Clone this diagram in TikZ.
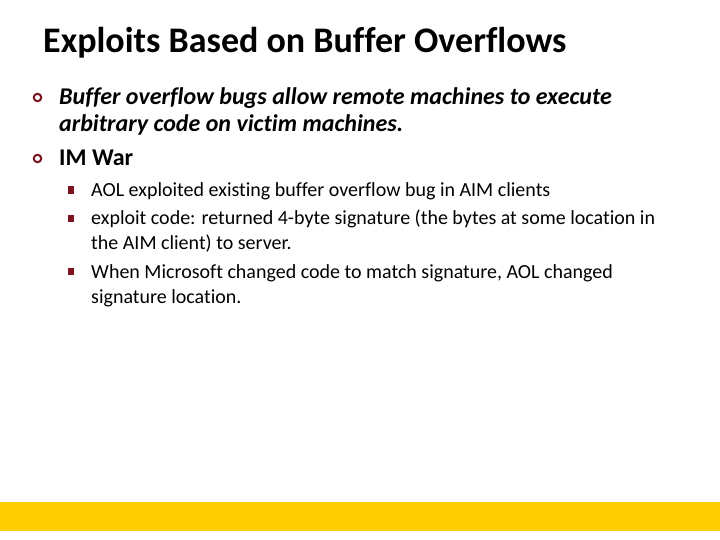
\documentclass[tikz,border=0pt]{standalone}
\usepackage{fontspec}
\setmainfont[Ligatures=NoCommon]{Carlito}
\definecolor{bulletred}{RGB}{125,20,30}
\definecolor{baryellow}{RGB}{255,204,0}
\begin{document}
\begin{tikzpicture}[x=1pt,y=-1pt,
  title/.style={anchor=base west,inner sep=0pt,font=\fontsize{36}{40}\selectfont\bfseries},
  lone/.style={anchor=base west,inner sep=0pt,font=\fontsize{24}{28}\selectfont\bfseries},
  lonei/.style={anchor=base west,inner sep=0pt,font=\fontsize{24}{28}\selectfont\bfseries\itshape},
  ltwo/.style={anchor=base west,inner sep=0pt,font=\fontsize{20}{24}\selectfont},
  ring/.style={circle,draw=bulletred,line width=2pt,minimum size=7.5pt,inner sep=0pt},
  sq/.style={fill=bulletred,minimum width=6pt,minimum height=7.5pt,inner sep=0pt}]
\useasboundingbox (0,0) rectangle (720,540);
\fill[white] (0,0) rectangle (720,540);
\fill[baryellow] (0,502) rectangle (720,531);
\node[title] (t) at (43,53) {Exploits Based on Buffer Overflows};
\node[ring] (b1) at (37.5,97.5) {};
\node[lonei] (l1a) at (59,105) {Buffer overflow bugs allow remote machines to execute};
\node[lonei] (l1b) at (59,132) {arbitrary code on victim machines.};
\node[ring] (b2) at (37.5,158.5) {};
\node[lone] (l2) at (59,166) {IM War};
\node[sq] (s1) at (71,190) {};
\node[ltwo] (a1) at (91,196.5) {AOL exploited existing buffer overflow bug in AIM clients};
\node[sq] (s2) at (71,218.5) {};
\node[ltwo] (a2) at (91,225) {exploit code: returned 4-byte signature (the bytes at some location in};
\node[ltwo] (a3) at (91,249) {the AIM client) to server.};
\node[sq] (s3) at (71,271.5) {};
\node[ltwo] (a4) at (91,278) {When Microsoft changed code to match signature, AOL changed};
\node[ltwo] (a5) at (91,303) {signature location.};
\end{tikzpicture}
\end{document}
